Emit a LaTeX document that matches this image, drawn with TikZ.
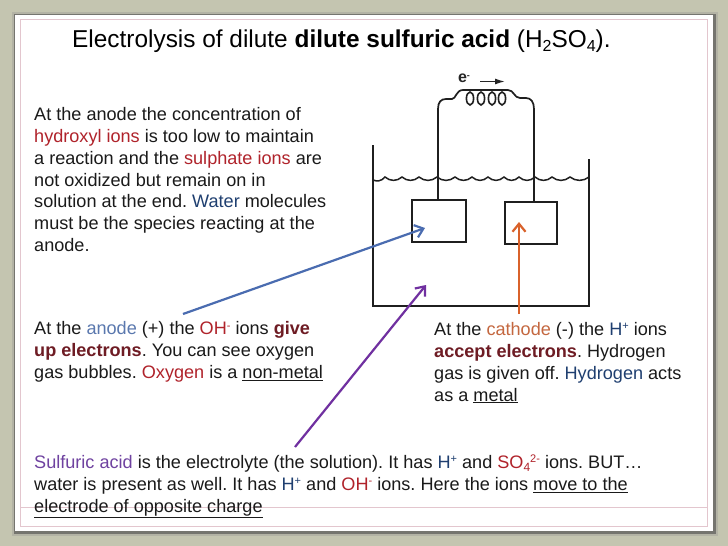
\documentclass[tikz,border=0pt]{standalone}
\usepackage{fontspec}
\setmainfont{Liberation Sans}
\usetikzlibrary{arrows.meta}
\frenchspacing
\definecolor{bgc}{HTML}{C4C5B0}
\definecolor{pinkc}{HTML}{E3C6CE}
\definecolor{redt}{HTML}{B0232B}
\definecolor{darkr}{HTML}{6E1C24}
\definecolor{bluet}{HTML}{5A78AE}
\definecolor{navyt}{HTML}{1F3F70}
\definecolor{oranget}{HTML}{C4673F}
\definecolor{purplet}{HTML}{6F42A0}
\definecolor{bluea}{HTML}{4A6CB0}
\definecolor{orangea}{HTML}{D9622B}
\definecolor{purplea}{HTML}{7030A0}
\definecolor{inkt}{HTML}{1A1A1A}
\newcommand{\sps}[1]{\raisebox{5.6pt}{\fontsize{11}{11}\selectfont #1}}
\newcommand{\sbs}[1]{\raisebox{-3.2pt}{\fontsize{12}{12}\selectfont #1}}
\newcommand{\tsbs}[1]{\raisebox{-4pt}{\fontsize{16}{16}\selectfont #1}}
\newcommand{\rd}[1]{\textcolor{redt}{#1}}
\newcommand{\dr}[1]{\textcolor{darkr}{\textbf{#1}}}
\newcommand{\bl}[1]{\textcolor{bluet}{#1}}
\newcommand{\nv}[1]{\textcolor{navyt}{#1}}
\newcommand{\og}[1]{\textcolor{oranget}{#1}}
\newcommand{\pp}[1]{\textcolor{purplet}{#1}}
\tikzset{
  para/.style={anchor=north west,inner sep=0pt,align=left,text=inkt,font=\fontsize{18.1}{21.9}\selectfont},
  ttl/.style={anchor=base west,inner sep=0pt,text=black,font=\fontsize{24.4}{28}\selectfont},
  app/.style={draw=black!88,line width=1.7pt},
  plate/.style={draw=black!88,line width=1.7pt,rectangle,inner sep=0pt,minimum width=#1},
  arw/.style={line width=2.2pt,-{Straight Barb[length=8pt,width=13pt,line width=2.2pt]}},
  frame/.style={draw=pinkc,line width=1pt}
}
\begin{document}
\begin{tikzpicture}[x=1pt,y=-1pt]
\useasboundingbox (0,0) rectangle (728,546);
\fill[bgc] (0,0) rectangle (728,546);
% slide card with its soft shadow
\fill[black!45,opacity=.3] (12,12) rectangle (718,536);
\fill[black!70,opacity=.6] (13.5,13.5) rectangle (716,534);
\fill[white] (15,15) rectangle (713,531);
\draw[frame] (20,19) rectangle (707,526);
\draw[frame] (20,507) -- (707,507);
% title
\node[ttl] (title) at (72,47) {Electrolysis of dilute \textbf{dilute sulfuric acid} (H\tsbs{2}SO\tsbs{4}).};
% paragraphs
\node[para] (p1) at (34,107) {At the anode the concentration of\\
\rd{hydroxyl ions} is too low to maintain\\
a reaction and the \rd{sulphate ions} are\\
not oxidized but remain on in\\
solution at the end. \nv{Water} molecules\\
must be the species reacting at the\\
anode.};
\node[para] (p2) at (34,321.5) {At the \bl{anode} (+) the \rd{OH\sps{-}} ions \dr{give}\\
\dr{up electrons}. You can see oxygen\\
gas bubbles. \rd{Oxygen} is a \underline{non-metal}};
\node[para] (p3) at (434,322) {At the \og{cathode} (-) the \nv{H\sps{+}} ions\\
\dr{accept electrons}. Hydrogen\\
gas is given off. \nv{Hydrogen} acts\\
as a \underline{metal}};
\node[para] (p4) at (34,455) {\pp{Sulfuric acid} is the electrolyte (the solution). It has \nv{H\sps{+}} and \rd{SO\sbs{4}\sps{2-}} ions. BUT…\\
water is present as well. It has \nv{H\sps{+}} and \rd{OH\sps{-}} ions. Here the ions \underline{move to the}\\
\underline{electrode of opposite charge}};
% apparatus
\draw[app] (373,145) -- (373,306) -- (589,306) -- (589,159);
\draw[app,line width=1.5pt] (373,180)
  \foreach \p/\n in {373/385,385/402,402/419,419/437,437/455,455/472,472/488,488/504,504/519,519/535,535/552,552/570,570/589}
  { .. controls ({\p+(\n-\p)*.3},181.5) and ({\p+(\n-\p)*.7},181.5) .. (\n,177) };
\node[plate=54pt,minimum height=42pt] (anode) at (439,221) {};
\node[plate=52pt,minimum height=42pt] (cathode) at (531,223) {};
\coordinate (wl) at (438,109);
\coordinate (wr) at (534,109);
\draw[app] (anode.north -| wl) -- (wl) .. controls (438,102) and (441,99) .. (446,99) -- (452,99)
  .. controls (456,99) and (456,90) .. (463,90) -- (508,90) .. controls (514,90) and (514,98) .. (520,98)
  -- (526,98) .. controls (531,98) and (534,102) .. (wr) -- (cathode.north -| wr);
\foreach \cx in {470,481,492,502}
  \draw[app,line width=1.6pt] (\cx,98.5) ellipse [x radius=3.6,y radius=6.5];
\node[inner sep=0pt,font=\fontsize{16}{16}\selectfont\bfseries,text=black!85] (eminus) at (464,78.5) {e\raisebox{4pt}{\fontsize{9}{9}\selectfont -}};
\coordinate (ea) at (480,81.5);
\coordinate (eb) at (505,81.5);
\draw[line width=1.4pt,-{Latex[length=10pt,width=6pt]},black!85] (ea) -- (eb);
% arrows
\coordinate (bs) at (183,314);
\coordinate (bt) at (425,228);
\coordinate (os) at (519,314);
\coordinate (ot) at (519,222);
\coordinate (ps) at (295,447);
\coordinate (pt) at (426,285);
\draw[arw,draw=bluea] (bs) -- (bt);
\draw[arw,draw=orangea] (os) -- (ot);
\draw[arw,draw=purplea] (ps) -- (pt);
\end{tikzpicture}
\end{document}
